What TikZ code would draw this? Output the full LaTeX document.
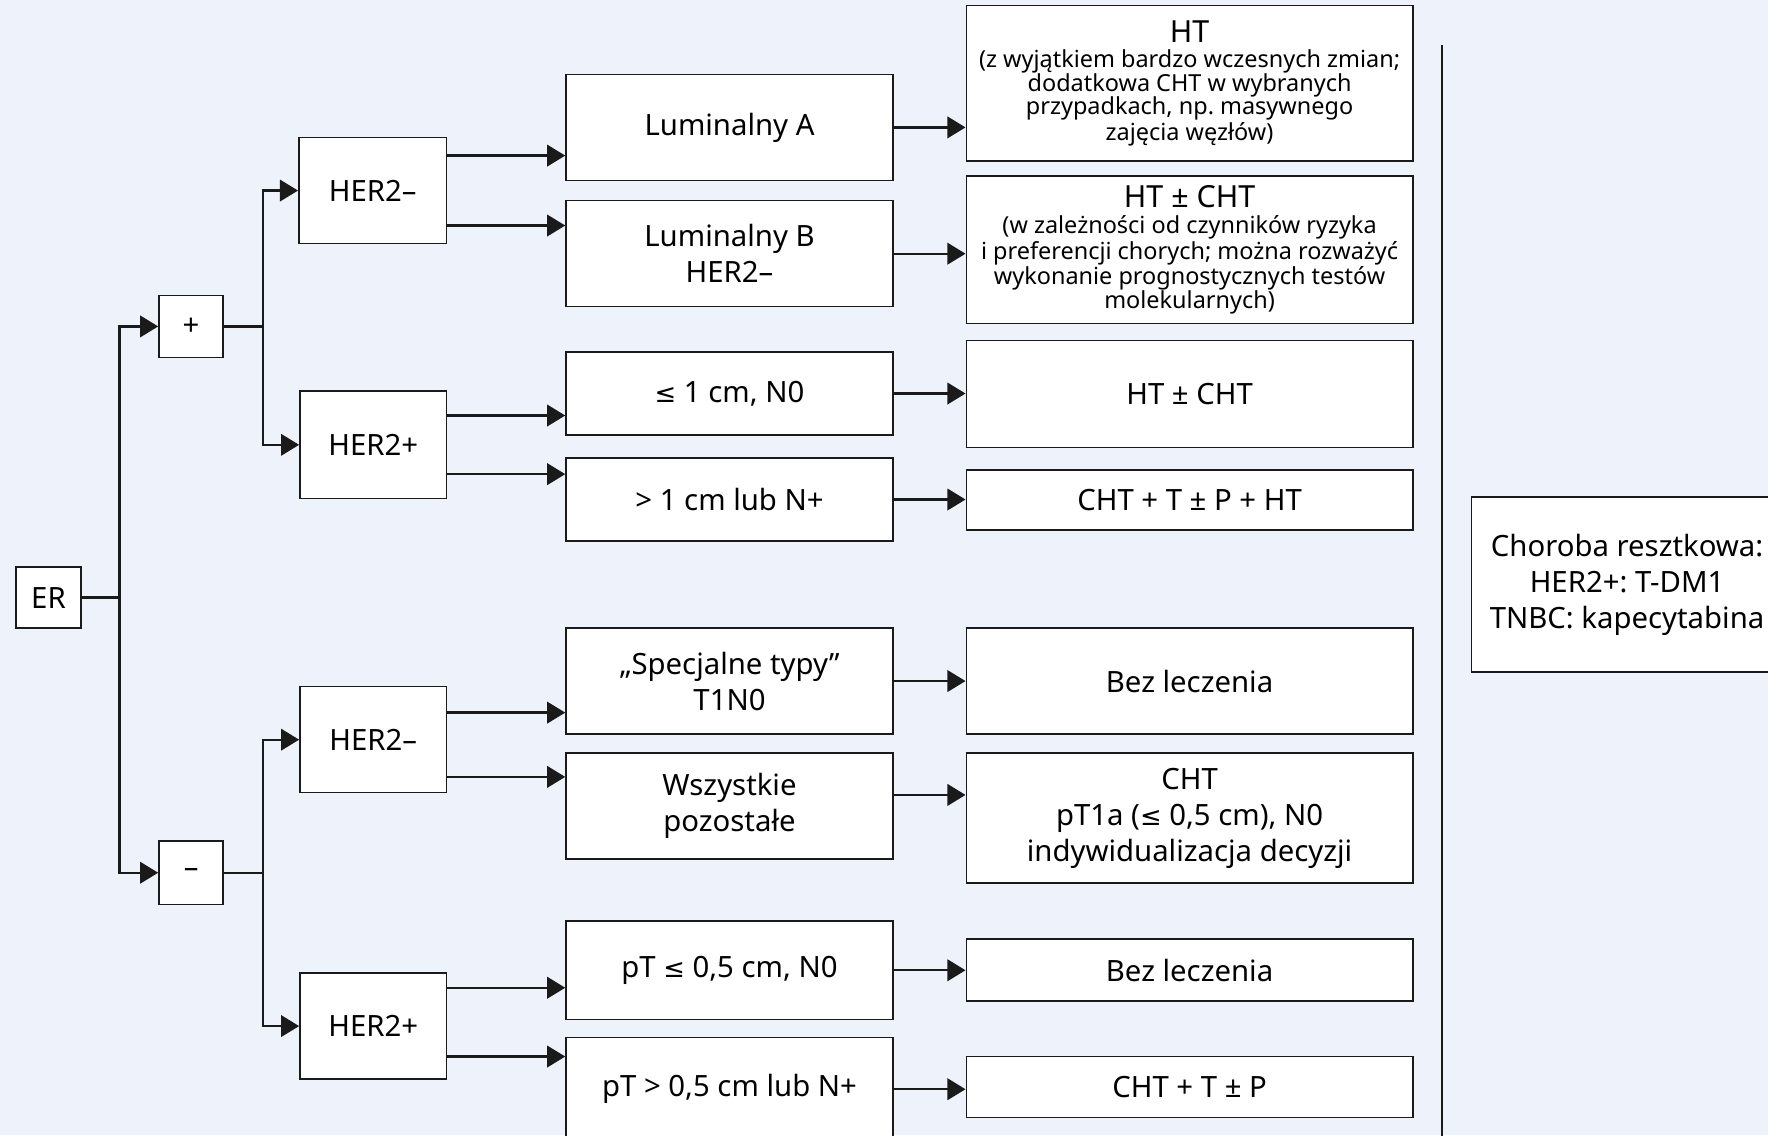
\documentclass[tikz,border=0pt]{standalone}
\usepackage{fontspec}
\setmainfont{Noto Sans}
\newfontfamily\symfont{DejaVu Sans}[Scale=0.88]
\usetikzlibrary{arrows.meta,calc}
\definecolor{bg}{HTML}{EEF2FA}
\definecolor{ink}{HTML}{1A1A1A}
\frenchspacing

% box given by its corners: name, x1, y1, x2, y2, text, extra style
\newcommand\bxs[7]{\node[box, #7, minimum width={(#4-#2)*0.5pt}, minimum height={(#5-#3)*0.5pt}] (#1) at ({(#2+#4)/2},{(#3+#5)/2}) {#6};}
\newcommand\bx[6]{\bxs{#1}{#2}{#3}{#4}{#5}{#6}{}}
% horizontal arrow leaving a box's east side (offset from its centre) into another box
\newcommand\link[3]{\draw[arr] ($(#1.east)+(0,#3)$) coordinate (t) -- (t -| #2.west);}
\newcommand\notefont{\fontsize{10.4}{10.4}\selectfont}
\newcommand\headfont{\fontsize{13.5}{15}\selectfont}
\newcommand\leqsym{{\symfont ≤}}

\begin{document}
\begin{tikzpicture}[x=0.5pt,y=-0.5pt,
  box/.style={draw=ink, line width=0.7pt, fill=white, inner sep=0pt, align=center,
              font=\fontsize{13}{16}\selectfont},
  wide/.style={text width=196pt, align=flush center},
  arr/.style={draw=ink, line width=1pt, -{Triangle[length=8pt,width=9.5pt]}},
  ln/.style={draw=ink, line width=1pt}]
\fill[bg] (0,0) rectangle (1568,1007);
\useasboundingbox (0,0) rectangle (1568,1007);
\clip (0,0) rectangle (1568,1007);

% first level
\bx{er}{14}{503}{72}{557}{ER}
\bx{plus}{141}{262}{198}{317}{+}
\bx{minus}{141}{746}{198}{802}{–}

% HER2 split
\bx{h1}{265}{122}{396}{216}{HER2–}
\bx{h2}{266}{347}{396}{442}{HER2+}
\bx{h3}{266}{609}{396}{703}{HER2–}
\bx{h4}{266}{863}{396}{957}{HER2+}

% subtypes
\bx{lumA}{502}{66}{792}{160}{Luminalny A}
\bx{lumB}{502}{178}{792}{272}{Luminalny B\\HER2–}
\bx{le1}{502}{312}{792}{386}{\leqsym{} 1 cm, N0}
\bx{gt1}{502}{406}{792}{480}{> 1 cm lub N+}
\bx{spec}{502}{557}{792}{651}{„Specjalne typy”\\T1N0}
\bx{wsz}{502}{668}{792}{762}{Wszystkie\\pozostałe}
\bx{pt1}{502}{817}{792}{904}{pT \leqsym{} 0,5 cm, N0}
\bx{pt2}{502}{920}{792}{1012}{pT > 0,5 cm lub N+}

% treatment
\bxs{tA}{857}{5}{1253}{143}{{\headfont HT\par}\vspace{1pt}{\notefont (z wyjątkiem bardzo wczesnych zmian;\\dodatkowa CHT w wybranych\\przypadkach, np. masywnego\\zajęcia węzłów)\par}}{wide}
\bxs{tB}{857}{156}{1253}{287}{{\headfont HT ± CHT\par}\vspace{1pt}{\notefont (w zależności od czynników ryzyka\\i preferencji chorych; można rozważyć\\wykonanie prognostycznych testów\\molekularnych)\par}}{wide}
\bx{tC}{857}{302}{1253}{397}{HT ± CHT}
\bx{tD}{857}{417}{1253}{470}{CHT + T ± P + HT}
\bx{tE}{857}{557}{1253}{651}{Bez leczenia}
\bx{tF}{857}{668}{1253}{783}{CHT\\pT1a (\leqsym{} 0,5 cm), N0\\indywidualizacja decyzji}
\bx{tG}{857}{833}{1253}{888}{Bez leczenia}
\bx{tH}{857}{937}{1253}{991}{CHT + T ± P}

% separator and residual disease box
\coordinate (sepTop) at (1279,40);
\coordinate (sepBot) at (1279,1010);
\draw[ink, line width=0.8pt] (sepTop) -- (sepBot);
\node[box, minimum width=138pt, minimum height=77.5pt] (res) at (1443,518.5)
  {Choroba resztkowa:\\HER2+: T-DM1\\TNBC: kapecytabina};

% ER branching
\coordinate (j1) at (106,530);
\draw[ln] (er.east) -- (er.east -| j1);
\draw[arr] (er.east -| j1) |- (plus.west);
\draw[arr] (er.east -| j1) |- (minus.west);

\coordinate (j2) at (233,0);
\draw[ln] (plus.east) -- (plus.east -| j2);
\draw[arr] (plus.east -| j2) |- (h1.west);
\draw[arr] (plus.east -| j2) |- (h2.west);
\draw[ln] (minus.east) -- (minus.east -| j2);
\draw[arr] (minus.east -| j2) |- (h3.west);
\draw[arr] (minus.east -| j2) |- (h4.west);

% HER2 to subtypes
\link{h1}{lumA}{-31}
\link{h1}{lumB}{31}
\link{h2}{le1}{-26}
\link{h2}{gt1}{26}
\link{h3}{spec}{-24}
\link{h3}{wsz}{33}
\link{h4}{pt1}{-34}
\link{h4}{pt2}{27}

% subtypes to treatment
\link{lumA}{tA}{0}
\link{lumB}{tB}{0}
\link{le1}{tC}{0}
\link{gt1}{tD}{0}
\link{spec}{tE}{0}
\link{wsz}{tF}{-10}
\link{pt1}{tG}{0}
\link{pt2}{tH}{0}
\end{tikzpicture}
\end{document}
